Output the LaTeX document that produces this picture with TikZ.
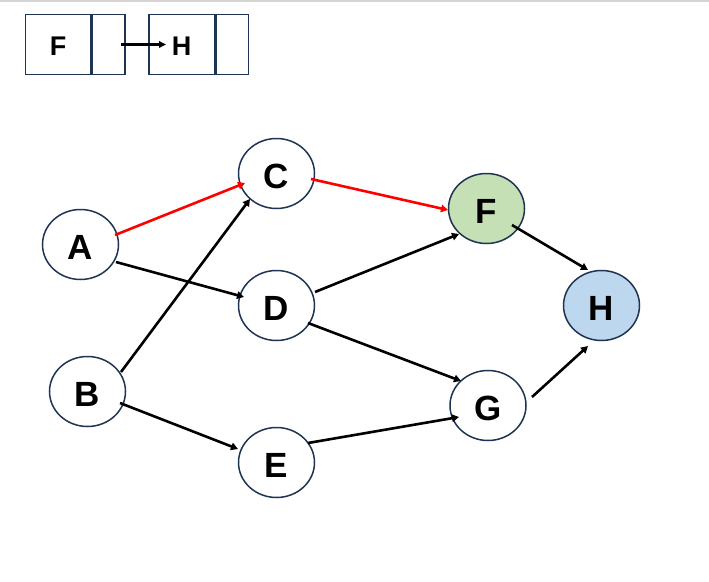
\documentclass[tikz,border=0pt]{standalone}
\usepackage{fontspec}
\setmainfont{Liberation Sans}
\usetikzlibrary{shapes.geometric,arrows.meta}
\definecolor{navy}{HTML}{1F3352}
\definecolor{fgreen}{HTML}{C5E0B4}
\definecolor{hblue}{HTML}{BDD7EE}
\definecolor{topgray}{HTML}{D4D4D4}
\tikzset{
  vert/.style={ellipse, draw=navy, line width=1.5pt, fill=white, minimum width=76pt, minimum height=70pt, inner sep=0pt, text height=29pt, text depth=0pt, font=\fontsize{35}{40}\selectfont\bfseries},
  edge/.style={line width=2.6pt, -{Triangle[length=7pt,width=7.5pt]}},
  redge/.style={edge, draw=red, color=red},
  cell/.style={draw=navy, line width=1.5pt, minimum height=60pt, inner sep=0pt},
  celltext/.style={font=\fontsize{27}{30}\selectfont\bfseries},
}
\newcommand{\off}[3]{([shift={(#2,#3)}]#1.center)}
\begin{document}
\begin{tikzpicture}[x=1pt,y=-1pt]
\useasboundingbox (0,0) rectangle (709,581);
\fill[white] (0,0) rectangle (709,581);
\fill[topgray] (0,0) rectangle (709,2);
% linked list boxes
\node[cell, minimum width=65pt] (f1) at (58,44.5) {};
\node[cell, minimum width=33pt, anchor=west] (f2) at (f1.east) {};
\node[cell, minimum width=66pt] (h1) at (182,44.5) {};
\node[cell, minimum width=32pt, anchor=west] (h2) at (h1.east) {};
\node[celltext] (ft) at (58,46) {F};
\node[celltext] (ht) at (181.5,46) {H};
\coordinate (ls) at (121,44.5);
\coordinate (le) at (166,44.5);
\draw[line width=2.2pt, -{Triangle[length=7pt,width=6.5pt]}] (ls) -- (le);
% graph
\node[vert] (A) at (80.5,244.5) {A};
\node[vert] (B) at (87.5,391.5) {B};
\node[vert] (C) at (276.5,173.5) {C};
\node[vert] (D) at (276.5,305.5) {D};
\node[vert] (E) at (276.5,462.5) {E};
\node[vert, fill=fgreen] (F) at (486.5,208.5) {F};
\node[vert] (G) at (488,405.5) {G};
\node[vert, fill=hblue] (H) at (601.5,305.5) {H};
\draw[redge] \off{A}{34.5}{-9.5} -- \off{C}{-31.5}{9.5};
\draw[edge] \off{A}{35.5}{17.5} -- \off{D}{-32.5}{-8.5};
\draw[edge] \off{B}{33.5}{-19.5} -- \off{C}{-26.5}{25.5};
\draw[edge] \off{B}{32.5}{11.5} -- \off{E}{-38.5}{-13.5};
\draw[redge] \off{C}{34.5}{5.5} -- \off{F}{-38.5}{1.5};
\draw[edge] \off{D}{38.5}{-13.5} -- \off{F}{-27.5}{25.5};
\draw[edge] \off{D}{31.5}{17.5} -- \off{G}{-27}{-24.5};
\draw[edge] \off{E}{31.5}{-19.5} -- \off{G}{-29}{11.5};
\draw[edge] \off{F}{25.5}{16.5} -- \off{H}{-13.5}{-35.5};
\draw[edge] \off{G}{44}{-8.5} -- \off{H}{-13.5}{40.5};
\end{tikzpicture}
\end{document}
